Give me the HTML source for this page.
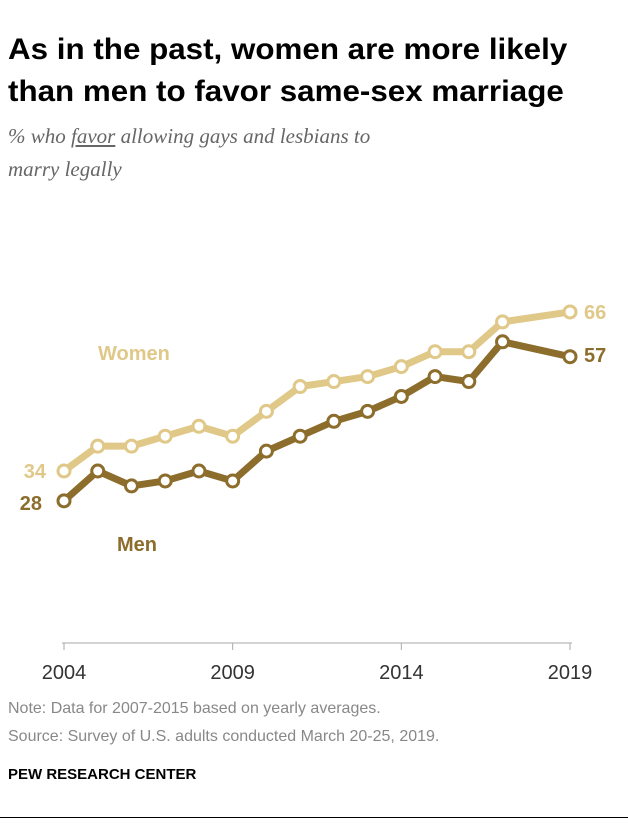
<!DOCTYPE html>
<html><head><meta charset="utf-8">
<style>
body{margin:0;background:#fff;width:628px;height:828px;overflow:hidden;font-family:"Liberation Sans",sans-serif;}
.t{position:absolute;left:8px;top:29px;font-size:30px;font-weight:bold;line-height:42px;color:#000;white-space:nowrap;transform:scaleX(1.045);transform-origin:0 0}
.s{position:absolute;left:8px;top:120px;font-family:"Liberation Serif",serif;font-style:italic;font-size:21px;line-height:33px;color:#666}
.n{position:absolute;left:8px;font-size:16px;color:#888}
</style></head><body>
<div class="t">As in the past, women are more likely<br>than men to favor same-sex marriage</div>
<div class="s">% who <u>favor</u> allowing gays and lesbians to<br>marry legally</div>
<svg id="c" width="628" height="828" style="position:absolute;left:0;top:0"></svg>
<div class="n" style="top:700px">Note: Data for 2007-2015 based on yearly averages.</div>
<div class="n" style="top:728px">Source: Survey of U.S. adults conducted March 20-25, 2019.</div>
<div style="position:absolute;left:8px;top:766px;font-size:15px;font-weight:bold;color:#000">PEW RESEARCH CENTER</div>
<div style="position:absolute;left:0;top:817px;width:628px;height:1px;background:#000"></div>
<script>
const years=[2004,2005,2006,2007,2008,2009,2010,2011,2012,2013,2014,2015,2016,2017,2019];
const women=[34,39,39,41,43,41,46,51,52,53,55,58,58,64,66];
const men=[28,34,31,32,34,32,38,41,44,46,49,53,52,60,57];
const tickYears=[2004,2009,2014,2019];
const svg=document.getElementById('c');const NS='http://www.w3.org/2000/svg';
const x=y=>64+(y-2004)*(570-64)/15;
const yv=v=>471-(v-34)*4.97;
function mk(t,a){const e=document.createElementNS(NS,t);for(const k in a)e.setAttribute(k,a[k]);svg.appendChild(e);return e;}
const ax=mk('line',{x1:62,x2:572,y1:643,y2:643,stroke:'#aaa','stroke-width':1});


tickYears.forEach(t=>{
 const l=mk('line',{x1:x(t),x2:x(t),y1:643,y2:650,stroke:'#aaa'});
 
 
 const tx=mk('text',{x:x(t),y:679,'text-anchor':'middle','font-size':20,fill:'#333','font-family':'Liberation Sans, sans-serif'});tx.textContent=t;
 
 
});
function series(vals,col,name){
 const p=mk('polyline',{points:vals.map((v,i)=>x(years[i])+','+yv(v)).join(' '),fill:'none',stroke:col,'stroke-width':7,'stroke-linejoin':'round'});
 
 
 vals.forEach((v,i)=>{const c=mk('circle',{cx:x(years[i]),cy:yv(v),r:6,fill:'#fff',stroke:col,'stroke-width':3});
 
 });
}
series(women,'#E0C888','women');
series(men,'#8C6D2C','men');
function lab(t,xx,yy,col,anc,name){const e=mk('text',{x:xx,y:yy,'text-anchor':anc,'font-size':20,'font-weight':'bold',fill:col,'font-family':'Liberation Sans, sans-serif'});e.textContent=t;

}
lab(women[0],46,478,'#E0C888','end','women-start-value');
lab(men[0],42,510,'#8C6D2C','end','men-start-value');
lab(women[women.length-1],584,319,'#E0C888','start','women-end-value');
lab(men[men.length-1],584,362,'#8C6D2C','start','men-end-value');
lab('Women',98,360,'#E0C888','start','women-label');
lab('Men',117,551,'#8C6D2C','start','men-label');
</script>
</body></html>
